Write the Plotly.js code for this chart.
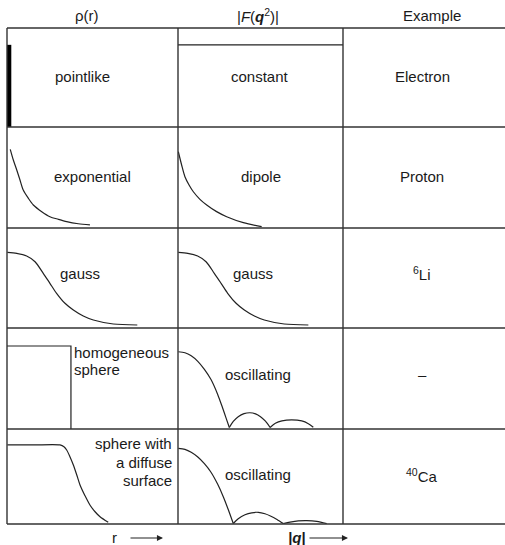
<!DOCTYPE html>
<html>
<head>
<meta charset="utf-8">
<script src="https://cdn.plot.ly/plotly-3.0.1.min.js"></script>
<style>
  html, body { margin: 0; padding: 0; background: #fff; }
  #tabla { width: 505px; height: 545px; }
</style>
</head>
<body>
<div id="tabla"></div>
<script>
// textos de la tabla
const cabeceras = ['ρ(r)', '|<i>F</i>(<b><i>q</i></b><sup>2</sup>)|', 'Example'];
const formas = ['constant', 'dipole', 'gauss', 'oscillating', 'oscillating'];
const ejemplos = ['Electron', 'Proton', '<sup>6</sup>Li', '–', '<sup>40</sup>Ca'];

// curvas (unidades normalizadas de cada celda)
const puntualR = [0.012, 0.012];
const puntualRho = [0, 0.83];
const constQ = [0, 1];
const constF = [0.83, 0.83];

const expR = [0.019, 0.037, 0.057, 0.076, 0.095, 0.125, 0.154, 0.203, 0.251, 0.300, 0.349, 0.417, 0.485];
const expRho = [0.779, 0.673, 0.574, 0.475, 0.376, 0.294, 0.228, 0.162, 0.112, 0.086, 0.063, 0.042, 0.030];
const dipQ = [0.002, 0.022, 0.042, 0.067, 0.093, 0.133, 0.174, 0.234, 0.295, 0.396, 0.507];
const dipF = [0.755, 0.624, 0.508, 0.426, 0.359, 0.284, 0.228, 0.162, 0.112, 0.053, 0.013];

const gaussR = [0.002, 0.057, 0.115, 0.164, 0.212, 0.251, 0.290, 0.339, 0.388, 0.446, 0.505, 0.622, 0.762];
const gaussRho = [0.757, 0.747, 0.72, 0.663, 0.547, 0.447, 0.347, 0.247, 0.18, 0.12, 0.08, 0.04, 0.03];
const gaussQ = [0.002, 0.059, 0.119, 0.170, 0.220, 0.261, 0.301, 0.352, 0.402, 0.463, 0.523, 0.644, 0.790];
const gaussF = [0.757, 0.747, 0.72, 0.663, 0.547, 0.447, 0.347, 0.247, 0.18, 0.12, 0.08, 0.04, 0.03];

const esferaR = [0, 0.374, 0.374];
const esferaRho = [0.822, 0.822, 0];
const osc1Q = [0.002, 0.042, 0.080, 0.120, 0.160, 0.200, 0.240, 0.270, 0.292, 0.311, null,
  0.311, 0.335, 0.365, 0.400, 0.436, 0.470, 0.500, 0.530, 0.558, null,
  0.558, 0.590, 0.630, 0.689, 0.750, 0.790, 0.820];
const osc1F = [0.765, 0.755, 0.725, 0.670, 0.590, 0.490, 0.345, 0.210, 0.105, 0.015, null,
  0.015, 0.075, 0.122, 0.152, 0.161, 0.150, 0.122, 0.077, 0.015, null,
  0.015, 0.056, 0.080, 0.090, 0.080, 0.053, 0.017];

const difusaR = [0.002, 0.154, 0.310, 0.333, 0.349, 0.368, 0.388, 0.408, 0.427, 0.456, 0.485, 0.515, 0.544, 0.592];
const difusaRho = [0.832, 0.832, 0.832, 0.814, 0.779, 0.708, 0.621, 0.516, 0.411, 0.298, 0.2, 0.129, 0.076, 0.018];
const osc2Q = [0.002, 0.042, 0.080, 0.120, 0.160, 0.200, 0.240, 0.275, 0.305, 0.335, null,
  0.335, 0.365, 0.406, 0.447, 0.487, 0.527, 0.560, 0.600, 0.638, null,
  0.638, 0.679, 0.729, 0.780, 0.841, 0.901];
const osc2F = [0.797, 0.785, 0.755, 0.705, 0.635, 0.545, 0.420, 0.285, 0.150, 0.005, null,
  0.005, 0.055, 0.097, 0.118, 0.123, 0.108, 0.085, 0.048, 0.005, null,
  0.005, 0.020, 0.033, 0.036, 0.028, 0.005];

// geometría de la tabla en píxeles
const W = 505, H = 545;
const colBordes = [7, 178, 343, 505];
const filaBordes = [28, 127, 228, 328, 429, 524];
const px = x => x / W;
const py = y => 1 - y / H;

const fuente = { family: 'Liberation Sans, Arial, sans-serif', size: 15, color: '#1a1a1a' };
const lineaCurva = { color: '#222', width: 1.2 };
const lineaSuave = { color: '#222', width: 1.2, shape: 'spline', smoothing: 0.8 };

function curva(x, y, col, fila, extra) {
  return Object.assign({
    x: x, y: y, mode: 'lines', line: lineaCurva, hoverinfo: 'skip', showlegend: false,
    xaxis: col === 0 ? 'x' : 'x2', yaxis: fila === 0 ? 'y' : 'y' + (fila + 1)
  }, extra || {});
}

const trazas = [
  curva(puntualR, puntualRho, 0, 0, { line: { color: '#000', width: 4.5 } }),
  curva(constQ, constF, 1, 0),
  curva(expR, expRho, 0, 1, { line: lineaSuave }),
  curva(dipQ, dipF, 1, 1, { line: lineaSuave }),
  curva(gaussR, gaussRho, 0, 2, { line: lineaSuave }),
  curva(gaussQ, gaussF, 1, 2, { line: lineaSuave }),
  curva(esferaR, esferaRho, 0, 3),
  curva(osc1Q, osc1F, 1, 3, { line: lineaSuave, connectgaps: false }),
  curva(difusaR, difusaRho, 0, 4, { line: lineaSuave }),
  curva(osc2Q, osc2F, 1, 4, { line: lineaSuave, connectgaps: false })
];

const ejeOculto = { visible: false, range: [0, 1], fixedrange: true };
const layout = {
  width: W, height: H,
  margin: { l: 0, r: 0, t: 0, b: 0 },
  paper_bgcolor: '#fff', plot_bgcolor: 'rgba(0,0,0,0)',
  showlegend: false,
  xaxis: Object.assign({ domain: [px(colBordes[0]), px(colBordes[1])], anchor: 'y' }, ejeOculto),
  xaxis2: Object.assign({ domain: [px(colBordes[1]), px(colBordes[2])], anchor: 'y' }, ejeOculto),
  shapes: [],
  annotations: []
};
for (let i = 0; i < 5; i++) {
  const nombre = i === 0 ? 'yaxis' : 'yaxis' + (i + 1);
  layout[nombre] = Object.assign({ domain: [py(filaBordes[i + 1]), py(filaBordes[i])], anchor: 'x' }, ejeOculto);
}

// líneas de la tabla
const lineaTabla = { color: '#333', width: 1.4 };
filaBordes.forEach(y => {
  layout.shapes.push({ type: 'line', xref: 'paper', yref: 'paper',
    x0: px(colBordes[0]), x1: px(W), y0: py(y), y1: py(y), line: lineaTabla });
});
colBordes.slice(0, 3).forEach(x => {
  layout.shapes.push({ type: 'line', xref: 'paper', yref: 'paper',
    x0: px(x), x1: px(x), y0: py(filaBordes[0]), y1: py(filaBordes[5]), line: lineaTabla });
});

function texto(t, x, y, extra) {
  layout.annotations.push(Object.assign({
    text: t, x: px(x), y: py(y), xref: 'paper', yref: 'paper',
    showarrow: false, font: fuente, xanchor: 'center', yanchor: 'middle'
  }, extra || {}));
}

// cabeceras
[87, 258, 432].forEach((x, i) => texto(cabeceras[i], x, 15));

// columna de densidades
texto('pointlike', 82, 77);
texto('exponential', 92, 176);
texto('gauss', 80, 273);
texto('homogeneous', 72, 352, { xanchor: 'left' });
texto('sphere', 72, 369, { xanchor: 'left' });
texto('sphere with', 174, 443, { xanchor: 'right' });
texto('a diffuse', 174, 462, { xanchor: 'right' });
texto('surface', 174, 480, { xanchor: 'right' });

// factores de forma y ejemplos
const centrosFila = [77, 176, 273, 374, 474];
const xForma = [260, 261, 253, 258, 258];
formas.forEach((f, i) => texto(f, xForma[i], centrosFila[i]));
ejemplos.forEach((e, i) => texto(e, 422, centrosFila[i] + (i === 4 ? 1 : 0)));

// ejes con flecha al pie
texto('r', 114, 537);
texto('<b><i>|q|</i></b>', 297, 537);
layout.annotations.push(
  { x: px(163), y: py(538), xref: 'paper', yref: 'paper', ax: -34, ay: 0, text: '',
    showarrow: true, arrowhead: 2, arrowsize: 1.1, arrowwidth: 1.1, arrowcolor: '#222' },
  { x: px(348), y: py(538), xref: 'paper', yref: 'paper', ax: -40, ay: 0, text: '',
    showarrow: true, arrowhead: 2, arrowsize: 1.1, arrowwidth: 1.1, arrowcolor: '#222' }
);

Plotly.newPlot('tabla', trazas, layout, { staticPlot: true, displayModeBar: false });
</script>
</body>
</html>
